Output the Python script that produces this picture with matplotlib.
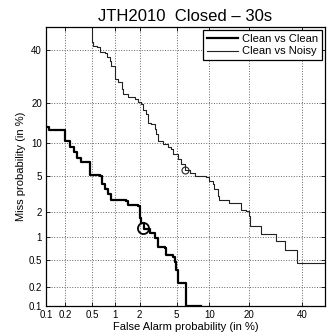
import math
import numpy as np
import matplotlib
matplotlib.use('Agg')
import matplotlib.pyplot as plt
from matplotlib.ticker import FixedLocator, NullLocator

plt.rcParams['font.family'] = ['Liberation Sans', 'DejaVu Sans']

# DET curves, values in %
clean_fa = [0.1, 0.11, 0.2, 0.2, 0.24, 0.24, 0.27, 0.27, 0.3, 0.3, 0.34, 0.34, 0.46, 0.46,
            0.63, 0.67, 0.74, 0.8, 0.9, 1.39, 1.44, 1.9, 2.0, 2.1, 2.23, 2.6, 2.96, 3.19,
            3.78, 3.94, 4.57, 4.79, 4.98, 5.12, 6.22, 6.22, 8.5]
clean_miss = [13.4, 12.6, 12.2, 10.3, 10.3, 9.1, 9.1, 8.3, 8.3, 7.4, 7.4, 6.7, 6.4, 5.1,
              5.0, 4.1, 3.6, 3.2, 2.8, 2.68, 2.46, 2.36, 1.74, 1.51, 1.28, 1.14, 0.98, 0.75,
              0.72, 0.58, 0.55, 0.465, 0.357, 0.23, 0.23, 0.101, 0.101]

noisy_fa = [0.485, 0.485, 0.51, 0.57, 0.63, 0.74, 0.78, 0.86, 0.9, 1.0, 1.01, 1.1, 1.21, 1.27,
            1.46, 1.75, 1.92, 2.1, 2.19, 2.39, 2.49, 2.72, 2.96, 3.09, 3.22, 3.63, 4.09, 4.43,
            4.6, 5.16, 5.57, 6.1, 6.67, 7.42, 9.41, 10.0, 10.7, 11.0, 11.7, 12.1, 14.3, 14.5,
            17.1, 17.6, 19.1, 19.9, 20.3, 23.9, 23.9, 29.3, 29.3, 33.0, 33.0, 37.75, 37.75, 50]
noisy_miss = [50, 43.3, 41.8, 41.2, 39.0, 38.6, 36.9, 35.5, 33.4, 32.8, 28.2, 27.0, 24.6, 22.9,
              22.0, 21.2, 20.2, 19.7, 17.85, 16.7, 14.5, 14.07, 12.88, 11.73, 10.34, 9.7, 9.26, 8.77,
              7.93, 7.13, 6.4, 5.61, 5.33, 4.93, 4.87, 4.39, 4.06, 3.66, 3.05, 2.8, 2.68, 2.53,
              2.53, 2.16, 2.06, 1.8, 1.39, 1.39, 1.1, 1.1, 0.897, 0.897, 0.681, 0.681, 0.446, 0.446]

# min DCF points
clean_dcf = (2.2, 1.3)
noisy_dcf = (6.0, 5.6)

ticks = [0.1, 0.2, 0.5, 1, 2, 5, 10, 20, 40]
tick_labels = ['0.1', '0.2', '0.5', '1', '2', '5', '10', '20', '40']


def ppf(pct):
    # normal deviate (Acklam approximation)
    p = np.clip(np.asarray(pct, dtype=float) / 100.0, 1e-9, 1 - 1e-9)
    a = [-3.969683028665376e+01, 2.209460984245205e+02, -2.759285104469687e+02,
         1.383577518672690e+02, -3.066479806614716e+01, 2.506628277459239e+00]
    b = [-5.447609879822406e+01, 1.615858368580409e+02, -1.556989798598866e+02,
         6.680131188771972e+01, -1.328068155288572e+01]
    c = [-7.784894002430293e-03, -3.223964580411365e-01, -2.400758277161838e+00,
         -2.549732539343734e+00, 4.374664141464968e+00, 2.938163982698783e+00]
    d = [7.784695709041462e-03, 3.224671290700398e-01, 2.445134137142996e+00,
         3.754408661907416e+00]
    plow = 0.02425

    def tail(q):
        num = ((((c[0]*q + c[1])*q + c[2])*q + c[3])*q + c[4])*q + c[5]
        den = (((d[0]*q + d[1])*q + d[2])*q + d[3])*q + 1
        return num / den

    q = p - 0.5
    r = q * q
    mid = (((((a[0]*r + a[1])*r + a[2])*r + a[3])*r + a[4])*r + a[5])*q / \
          (((((b[0]*r + b[1])*r + b[2])*r + b[3])*r + b[4])*r + 1)
    lo = tail(np.sqrt(-2 * np.log(p)))
    hi = -tail(np.sqrt(-2 * np.log(1 - p)))
    return np.where(p < plow, lo, np.where(p > 1 - plow, hi, mid))


_erf = np.vectorize(math.erf)


def cdf(z):
    z = np.asarray(z, dtype=float)
    return 50.0 * (1 + _erf(z / math.sqrt(2)))


fig = plt.figure(figsize=(3.27, 3.34), dpi=100)
ax = fig.add_axes([0.1407, 0.0838, 0.8532, 0.8354])
ax.set_xscale('function', functions=(ppf, cdf))
ax.set_yscale('function', functions=(ppf, cdf))

ax.plot(clean_fa, clean_miss, color='black', lw=1.6, drawstyle='steps-post', label='Clean vs Clean')
ax.plot(noisy_fa, noisy_miss, color='#222222', lw=0.8, drawstyle='steps-post', label='Clean vs Noisy')
ax.plot(*clean_dcf, 'o', mfc='none', mec='black', ms=8, mew=1.3)
ax.plot(*noisy_dcf, 'o', mfc='none', mec='#222222', ms=5, mew=0.8)

ax.set_xlim(0.1, 50)
ax.set_ylim(0.1, 50)
for axis in (ax.xaxis, ax.yaxis):
    axis.set_major_locator(FixedLocator(ticks))
    axis.set_minor_locator(NullLocator())
ax.set_xticklabels(tick_labels)
ax.set_yticklabels(tick_labels)
ax.tick_params(direction='in', length=3, width=0.6, labelsize=7, top=True, right=True, pad=3)
ax.grid(True, linestyle=':', color='#666666', lw=0.7)
for s in ax.spines.values():
    s.set_linewidth(0.9)

ax.set_title('JTH2010  Closed \u2013 30s', fontsize=12, pad=4)
ax.set_xlabel('False Alarm probability (in %)', fontsize=8, labelpad=1)
ax.set_ylabel('Miss probability (in %)', fontsize=8, labelpad=2)

leg = ax.legend(loc='upper right', fontsize=8, fancybox=False, framealpha=1,
                edgecolor='black', borderaxespad=0.3, handlelength=2.8,
                borderpad=0.3, labelspacing=0.25, handletextpad=0.4)
leg.get_frame().set_linewidth(0.9)

fig.savefig('out.png', dpi=100)
